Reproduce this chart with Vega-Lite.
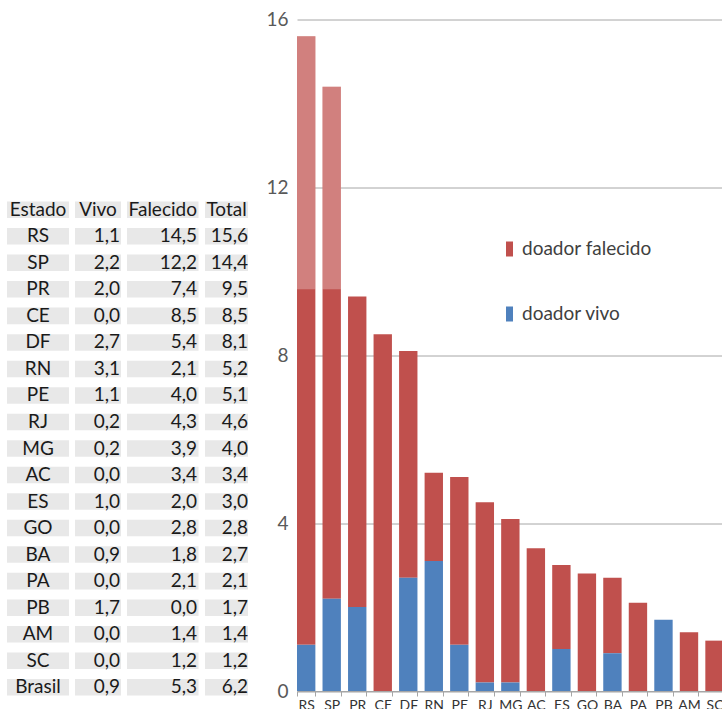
{
  "$schema": "https://vega.github.io/schema/vega-lite/v6.json",
  "padding": {"left": 7, "top": 10.5, "right": 0, "bottom": 0},
  "background": "white",
  "config": {
    "view": {"stroke": null},
    "font": "Lato",
    "text": {"font": "Lato"},
    "axis": {"labelFont": "Lato"},
    "legend": {"labelFont": "Lato"},
    "locale": {"number": {"decimal": ",", "thousands": ".", "grouping": [3], "currency": ["", ""]}}
  },
  "datasets": {
    "tabela": [
      {"Estado": "RS", "Vivo": 1.1, "Falecido": 14.5, "Total": 15.6},
      {"Estado": "SP", "Vivo": 2.2, "Falecido": 12.2, "Total": 14.4},
      {"Estado": "PR", "Vivo": 2.0, "Falecido": 7.4, "Total": 9.5},
      {"Estado": "CE", "Vivo": 0.0, "Falecido": 8.5, "Total": 8.5},
      {"Estado": "DF", "Vivo": 2.7, "Falecido": 5.4, "Total": 8.1},
      {"Estado": "RN", "Vivo": 3.1, "Falecido": 2.1, "Total": 5.2},
      {"Estado": "PE", "Vivo": 1.1, "Falecido": 4.0, "Total": 5.1},
      {"Estado": "RJ", "Vivo": 0.2, "Falecido": 4.3, "Total": 4.6},
      {"Estado": "MG", "Vivo": 0.2, "Falecido": 3.9, "Total": 4.0},
      {"Estado": "AC", "Vivo": 0.0, "Falecido": 3.4, "Total": 3.4},
      {"Estado": "ES", "Vivo": 1.0, "Falecido": 2.0, "Total": 3.0},
      {"Estado": "GO", "Vivo": 0.0, "Falecido": 2.8, "Total": 2.8},
      {"Estado": "BA", "Vivo": 0.9, "Falecido": 1.8, "Total": 2.7},
      {"Estado": "PA", "Vivo": 0.0, "Falecido": 2.1, "Total": 2.1},
      {"Estado": "PB", "Vivo": 1.7, "Falecido": 0.0, "Total": 1.7},
      {"Estado": "AM", "Vivo": 0.0, "Falecido": 1.4, "Total": 1.4},
      {"Estado": "SC", "Vivo": 0.0, "Falecido": 1.2, "Total": 1.2},
      {"Estado": "Brasil", "Vivo": 0.9, "Falecido": 5.3, "Total": 6.2}
    ]
  },
  "bounds": "flush",
  "spacing": 6,
  "hconcat": [
    {
      "width": 62, "height": 675.5,
      "data": {"name": "tabela"},
      "layer": [
        {"mark": {"type": "rect", "color": "#e8e8e8"},
         "encoding": {
           "x": {"datum": "c", "type": "nominal", "scale": {"paddingInner": 0, "paddingOuter": 0}, "axis": null},
           "y": {"field": "Estado", "type": "nominal", "sort": null,
           "scale": {"domain": ["Estado","RS","SP","PR","CE","DF","RN","PE","RJ","MG","AC","ES","GO","BA","PA","PB","AM","SC","Brasil"], "range": [182, 676], "paddingInner": 0.377, "paddingOuter": 0},
           "axis": null}}},
        {"data": {"values": [{}]}, "mark": {"type": "rect", "color": "#e8e8e8"},
         "encoding": {"x": {"datum": "c", "type": "nominal"}, "y": {"datum": "Estado", "type": "nominal"}}},
        {"mark": {"type": "text", "fontSize": 19, "color": "#1a1a1a", "align": "center", "baseline": "middle"},
         "encoding": {"x": {"datum": "c", "type": "nominal"}, "y": {"field": "Estado", "type": "nominal"}, "text": {"field": "Estado"}}},
        {"data": {"values": [{}]}, "mark": {"type": "text", "fontSize": 19, "color": "#1a1a1a", "align": "center", "baseline": "middle", "text": "Estado"},
         "encoding": {"x": {"datum": "c", "type": "nominal"}, "y": {"datum": "Estado", "type": "nominal"}}}
      ]
    },
    {
      "width": 46, "height": 675.5,
      "data": {"name": "tabela"},
      "layer": [
        {"mark": {"type": "rect", "color": "#e8e8e8"},
         "encoding": {
           "x": {"datum": "c", "type": "nominal", "scale": {"paddingInner": 0, "paddingOuter": 0}, "axis": null},
           "y": {"field": "Estado", "type": "nominal", "sort": null,
           "scale": {"domain": ["Estado","RS","SP","PR","CE","DF","RN","PE","RJ","MG","AC","ES","GO","BA","PA","PB","AM","SC","Brasil"], "range": [182, 676], "paddingInner": 0.377, "paddingOuter": 0},
           "axis": null}}},
        {"data": {"values": [{}]}, "mark": {"type": "rect", "color": "#e8e8e8"},
         "encoding": {"x": {"datum": "c", "type": "nominal"}, "y": {"datum": "Estado", "type": "nominal"}}},
        {"mark": {"type": "text", "fontSize": 19, "color": "#1a1a1a", "align": "right", "baseline": "middle", "dx": -1},
         "encoding": {"x": {"value": "width"}, "y": {"field": "Estado", "type": "nominal"}, "text": {"field": "Vivo", "type": "quantitative", "format": ".1f"}}},
        {"data": {"values": [{}]}, "mark": {"type": "text", "fontSize": 19, "color": "#1a1a1a", "align": "center", "baseline": "middle", "text": "Vivo"},
         "encoding": {"x": {"datum": "c", "type": "nominal"}, "y": {"datum": "Estado", "type": "nominal"}}}
      ]
    },
    {
      "width": 71.5, "height": 675.5,
      "data": {"name": "tabela"},
      "layer": [
        {"mark": {"type": "rect", "color": "#e8e8e8"},
         "encoding": {
           "x": {"datum": "c", "type": "nominal", "scale": {"paddingInner": 0, "paddingOuter": 0}, "axis": null},
           "y": {"field": "Estado", "type": "nominal", "sort": null,
           "scale": {"domain": ["Estado","RS","SP","PR","CE","DF","RN","PE","RJ","MG","AC","ES","GO","BA","PA","PB","AM","SC","Brasil"], "range": [182, 676], "paddingInner": 0.377, "paddingOuter": 0},
           "axis": null}}},
        {"data": {"values": [{}]}, "mark": {"type": "rect", "color": "#e8e8e8"},
         "encoding": {"x": {"datum": "c", "type": "nominal"}, "y": {"datum": "Estado", "type": "nominal"}}},
        {"mark": {"type": "text", "fontSize": 19, "color": "#1a1a1a", "align": "right", "baseline": "middle", "dx": -1.5},
         "encoding": {"x": {"value": "width"}, "y": {"field": "Estado", "type": "nominal"}, "text": {"field": "Falecido", "type": "quantitative", "format": ".1f"}}},
        {"data": {"values": [{}]}, "mark": {"type": "text", "fontSize": 19, "color": "#1a1a1a", "align": "center", "baseline": "middle", "text": "Falecido"},
         "encoding": {"x": {"datum": "c", "type": "nominal"}, "y": {"datum": "Estado", "type": "nominal"}}}
      ]
    },
    {
      "width": 43, "height": 675.5,
      "data": {"name": "tabela"},
      "layer": [
        {"mark": {"type": "rect", "color": "#e8e8e8"},
         "encoding": {
           "x": {"datum": "c", "type": "nominal", "scale": {"paddingInner": 0, "paddingOuter": 0}, "axis": null},
           "y": {"field": "Estado", "type": "nominal", "sort": null,
           "scale": {"domain": ["Estado","RS","SP","PR","CE","DF","RN","PE","RJ","MG","AC","ES","GO","BA","PA","PB","AM","SC","Brasil"], "range": [182, 676], "paddingInner": 0.377, "paddingOuter": 0},
           "axis": null}}},
        {"data": {"values": [{}]}, "mark": {"type": "rect", "color": "#e8e8e8"},
         "encoding": {"x": {"datum": "c", "type": "nominal"}, "y": {"datum": "Estado", "type": "nominal"}}},
        {"mark": {"type": "text", "fontSize": 19, "color": "#1a1a1a", "align": "right", "baseline": "middle", "dx": 0},
         "encoding": {"x": {"value": "width"}, "y": {"field": "Estado", "type": "nominal"}, "text": {"field": "Total", "type": "quantitative", "format": ".1f"}}},
        {"data": {"values": [{}]}, "mark": {"type": "text", "fontSize": 19, "color": "#1a1a1a", "align": "center", "baseline": "middle", "text": "Total"},
         "encoding": {"x": {"datum": "c", "type": "nominal"}, "y": {"datum": "Estado", "type": "nominal"}}}
      ]
    },
    {
      "width": 36.5, "height": 671.5,
      "data": {"values": []},
      "mark": {"type": "rect"}
    },
    {
      "width": 426.7, "height": 671.5,
      "data": {"name": "tabela"},
      "transform": [
        {"filter": "datum.Estado != 'Brasil'"}
      ],
      "layer": [
        {
          "transform": [{"fold": ["Falecido", "Vivo"], "as": ["tipo", "valor"]}],
          "mark": {"type": "bar"},
          "encoding": {
            "x": {"field": "Estado", "type": "nominal",
              "sort": ["RS","SP","PR","CE","DF","RN","PE","RJ","MG","AC","ES","GO","BA","PA","PB","AM","SC"],
              "scale": {"paddingInner": 0.28, "paddingOuter": 0},
              "axis": {"title": null, "labelAngle": 0, "labelFontSize": 14, "labelColor": "#333333", "labelBaseline": "top", "labelPadding": 2,
                       "ticks": true, "tickSize": 5, "tickColor": "#a6a6a6", "tickBand": "extent", "domainColor": "#a6a6a6", "grid": false}},
            "y": {"field": "valor", "type": "quantitative", "stack": "zero",
              "scale": {"domain": [0, 16], "nice": false},
              "axis": {"title": null, "values": [0, 4, 8, 12, 16], "domain": false, "ticks": false, "labelPadding": 9,
                       "labelFontSize": 19, "labelColor": "#595959", "gridColor": "#a6a6a6", "gridWidth": 1}},
            "color": {"field": "tipo", "type": "nominal",
              "scale": {"domain": ["Falecido", "Vivo"], "range": ["#c0504d", "#4f81bd"]},
              "legend": {"title": null, "orient": "none", "legendX": 493, "legendY": 220, "direction": "vertical",
                         "symbolType": "M-0.47,-1H0.47V1H-0.47Z", "symbolSize": 225, "symbolStrokeWidth": 0,
                         "labelFontSize": 19, "labelColor": "#404040", "labelOffset": 3, "rowPadding": 45, "padding": 0,
                         "labelExpr": "datum.label == 'Falecido' ? 'doador falecido' : 'doador vivo'"}},
            "order": {"field": "tipo", "sort": "descending"}
          }
        },
        {
          "transform": [{"filter": "datum.Total > 9.57"}],
          "mark": {"type": "bar", "color": "white", "opacity": 0.28},
          "encoding": {
            "x": {"field": "Estado", "type": "nominal",
              "sort": ["RS","SP","PR","CE","DF","RN","PE","RJ","MG","AC","ES","GO","BA","PA","PB","AM","SC"]},
            "y": {"field": "Total", "type": "quantitative"},
            "y2": {"datum": 9.57}
          }
        }
      ]
    }
  ]
}
